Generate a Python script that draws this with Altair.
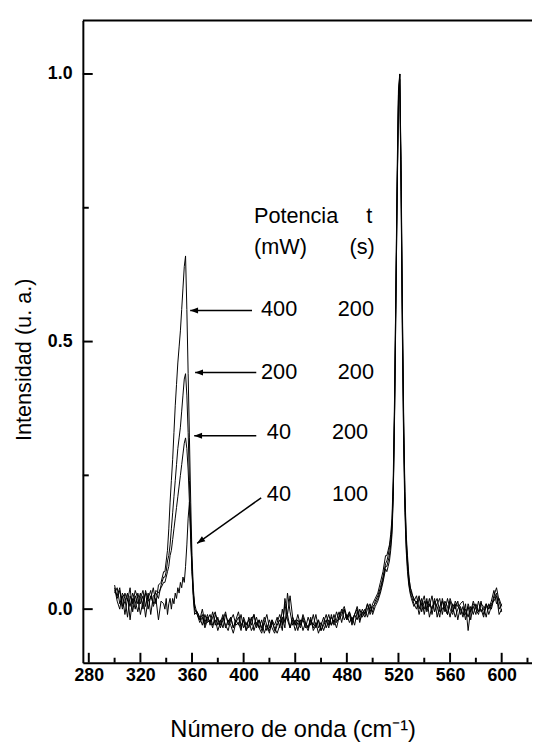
import altair as alt
import pandas as pd

# ---- wavenumber sampling grid (cm^-1) ----
X1 = list(range(300, 340, 2))
X2 = list(range(339, 363))
X3 = list(range(364, 511, 2))
X4 = list(range(511, 530))
X5 = list(range(530, 601, 2))

# ---- series: 400 mW / 200 s ----
A1 = [0.045, 0.02, 0.035, 0.005, 0.03, 0.015, 0.04, -0.005, 0.025, 0.01,
      0.03, 0.0, 0.035, 0.015, 0.02, 0.04, 0.01, 0.045, 0.05, 0.07]
A2 = [0.07, 0.09, 0.11, 0.15, 0.2, 0.24, 0.28, 0.33, 0.38, 0.42, 0.46, 0.49,
      0.52, 0.56, 0.6, 0.64, 0.66, 0.56, 0.44, 0.32, 0.2, 0.1, 0.04, 0.01]
A3 = [-0.01, -0.02, 0.0, -0.025, -0.01, -0.03, -0.015, -0.005, -0.03, -0.02,
      -0.035, -0.01, -0.025, -0.015, -0.035, -0.02, -0.005, -0.03, -0.02, -0.04,
      -0.015, -0.03, -0.01, -0.035, -0.02, -0.04, -0.025, -0.01, -0.035, -0.02,
      -0.04, -0.025, -0.01, -0.03, 0.01, -0.02, -0.035, -0.015, -0.03, -0.01,
      -0.03, -0.02, -0.035, -0.015, -0.03, -0.01, -0.035, -0.02, -0.04, -0.025,
      -0.01, -0.03, -0.015, -0.025, -0.005, -0.02, -0.01, 0.0, -0.02, -0.005,
      -0.025, -0.01, 0.005, -0.015, 0.0, -0.01, 0.01, -0.005, 0.01, 0.02,
      0.03, 0.05, 0.07, 0.1]
A4 = [0.1, 0.11, 0.12, 0.14, 0.17, 0.25, 0.4, 0.6, 0.79, 0.95, 1.0, 0.82,
      0.56, 0.35, 0.21, 0.13, 0.09, 0.06, 0.045]
A5 = [0.03, 0.02, 0.01, 0.025, -0.005, 0.015, 0.0, 0.02, -0.01, 0.015,
      0.005, -0.015, 0.02, 0.0, -0.01, 0.015, -0.005, 0.01, -0.02, 0.005,
      -0.01, 0.0, -0.015, 0.005, -0.01, 0.01, -0.005, 0.0, -0.015, 0.01,
      0.0, 0.015, 0.035, 0.01, 0.02, 0.005]

# ---- series: 200 mW / 200 s ----
B1 = [0.03, 0.04, 0.01, 0.025, -0.01, 0.02, 0.005, 0.03, 0.015, -0.005,
      0.02, 0.035, 0.005, 0.03, -0.01, 0.025, 0.03, 0.02, 0.045, 0.06]
B2 = [0.06, 0.07, 0.09, 0.1, 0.12, 0.15, 0.18, 0.21, 0.24, 0.27, 0.3, 0.32,
      0.34, 0.37, 0.4, 0.43, 0.44, 0.4, 0.33, 0.24, 0.15, 0.08, 0.03, 0.0]
B3 = [-0.005, -0.015, -0.03, -0.01, -0.025, -0.02, -0.035, -0.01, -0.02, -0.03,
      -0.015, -0.03, -0.04, -0.02, -0.01, -0.03, -0.025, -0.04, -0.015, -0.03,
      -0.02, -0.04, -0.03, -0.015, -0.035, -0.045, -0.025, -0.04, -0.02, -0.035,
      -0.045, -0.03, -0.02, -0.04, 0.02, -0.01, -0.035, -0.02, -0.04, -0.025,
      -0.035, -0.015, -0.03, -0.04, -0.02, -0.035, -0.025, -0.045, -0.03, -0.015,
      -0.035, -0.02, -0.03, -0.01, -0.025, -0.015, 0.0, -0.02, -0.01, -0.025,
      -0.015, -0.03, -0.005, -0.02, -0.01, 0.0, -0.015, 0.005, -0.005, 0.015,
      0.025, 0.04, 0.06, 0.085]
B4 = [0.09, 0.1, 0.115, 0.13, 0.16, 0.23, 0.37, 0.57, 0.77, 0.94, 1.0, 0.84,
      0.58, 0.37, 0.22, 0.14, 0.1, 0.065, 0.04]
B5 = [0.035, 0.015, 0.025, 0.0, 0.02, -0.01, 0.015, 0.005, 0.025, -0.005,
      0.01, 0.02, -0.01, 0.015, 0.005, -0.015, 0.01, 0.0, 0.015, -0.01,
      0.005, -0.02, 0.01, -0.005, 0.015, 0.0, -0.01, 0.01, 0.005, -0.015,
      0.01, 0.0, 0.02, 0.03, 0.0, 0.01]

# ---- series: 40 mW / 200 s ----
C1 = [0.04, 0.015, 0.0, 0.03, 0.02, -0.015, 0.025, 0.01, 0.035, 0.02,
      -0.01, 0.015, 0.03, 0.0, 0.025, 0.01, 0.035, 0.03, 0.04, 0.05]
C2 = [0.05, 0.06, 0.07, 0.08, 0.1, 0.11, 0.13, 0.15, 0.17, 0.19, 0.21, 0.23,
      0.25, 0.27, 0.29, 0.31, 0.32, 0.3, 0.26, 0.2, 0.13, 0.07, 0.03, 0.0]
C3 = [-0.01, -0.025, -0.015, -0.035, -0.02, -0.01, -0.03, -0.02, -0.04, -0.025,
      -0.01, -0.035, -0.02, -0.03, -0.045, -0.025, -0.015, -0.035, -0.02, -0.04,
      -0.03, -0.015, -0.04, -0.025, -0.035, -0.02, -0.045, -0.03, -0.04, -0.025,
      -0.035, -0.045, -0.03, -0.015, -0.035, 0.03, -0.005, -0.03, -0.02, -0.04,
      -0.02, -0.04, -0.025, -0.035, -0.015, -0.04, -0.03, -0.02, -0.04, -0.03,
      -0.02, -0.035, -0.01, -0.03, -0.02, -0.005, -0.025, 0.0, -0.02, -0.01,
      -0.03, -0.01, -0.02, 0.0, -0.015, -0.005, 0.01, -0.01, 0.005, 0.01,
      0.02, 0.035, 0.055, 0.08]
C4 = [0.08, 0.09, 0.1, 0.12, 0.15, 0.22, 0.36, 0.56, 0.78, 0.96, 0.99, 0.8,
      0.54, 0.33, 0.2, 0.12, 0.08, 0.05, 0.035]
C5 = [0.025, 0.01, 0.0, 0.02, 0.01, 0.025, -0.005, 0.01, 0.0, 0.02,
      -0.015, 0.005, 0.015, -0.005, 0.02, 0.0, -0.01, 0.015, 0.005, 0.0,
      -0.015, 0.01, -0.04, 0.0, 0.005, -0.01, 0.015, -0.005, 0.0, 0.01,
      -0.01, 0.005, 0.025, 0.04, 0.015, -0.005]

# ---- series: 40 mW / 100 s ----
D1 = [0.035, 0.025, 0.04, 0.0, 0.015, 0.03, -0.02, 0.02, 0.0, 0.03,
      0.01, 0.025, -0.015, 0.02, 0.035, 0.005, 0.02, -0.02, 0.015, 0.01]
D2 = [0.0, 0.02, -0.01, 0.01, 0.02, 0.0, 0.02, 0.01, 0.03, 0.02, 0.04, 0.03,
      0.05, 0.04, 0.06, 0.05, 0.08, 0.12, 0.17, 0.2, 0.14, 0.07, 0.02, -0.01]
D3 = [-0.005, -0.02, -0.01, -0.03, -0.015, -0.025, -0.005, -0.03, -0.015, -0.035,
      -0.02, -0.005, -0.03, -0.015, -0.035, -0.02, -0.03, -0.01, -0.035, -0.025,
      -0.035, -0.02, -0.01, -0.03, -0.02, -0.035, -0.015, -0.03, -0.045, -0.02,
      -0.03, -0.015, -0.035, 0.0, -0.025, -0.01, 0.025, -0.015, -0.03, -0.02,
      -0.03, -0.01, -0.025, -0.035, -0.02, -0.03, -0.01, -0.035, -0.025, -0.04,
      -0.025, -0.01, -0.03, -0.02, -0.035, -0.015, -0.005, 0.005, -0.015, -0.005,
      -0.02, -0.01, 0.0, -0.025, -0.005, -0.015, 0.0, 0.01, -0.01, 0.005,
      0.015, 0.03, 0.05, 0.075]
D4 = [0.07, 0.08, 0.09, 0.11, 0.14, 0.21, 0.38, 0.6, 0.82, 0.97, 1.0, 0.78,
      0.52, 0.31, 0.18, 0.11, 0.07, 0.045, 0.03]
D5 = [0.02, 0.005, 0.015, -0.01, 0.01, 0.0, 0.02, -0.015, 0.005, 0.01,
      0.02, -0.005, 0.0, 0.01, -0.01, 0.02, 0.005, -0.015, 0.0, 0.01,
      0.015, -0.01, 0.005, -0.02, 0.01, 0.005, -0.005, 0.015, -0.01, 0.005,
      0.0, 0.01, 0.015, 0.025, -0.01, 0.0]

# ---- axis ticks ----
X_MAJOR = [280, 320, 360, 400, 440, 480, 520, 560, 600]
X_MINOR = [300, 340, 380, 420, 460, 500, 540, 580, 620]
Y_MAJOR = [0.0, 0.5, 1.0]
Y_MINOR = [0.25, 0.75]

# ---- annotations ----
HEAD_TEXT = ["Potencia", "t", "(mW)", "(s)"]
HEAD_X = [408, 495, 408, 482]
HEAD_Y = [0.735, 0.735, 0.676, 0.676]
POW = ["400", "200", "40", "40"]
TIME = ["200", "200", "200", "100"]
POW_X = [413.5, 413.5, 418, 418]
TIME_X = [473, 473, 468.5, 468.5]
ROW_Y = [0.56, 0.442, 0.331, 0.215]
ARR_X0 = [406.5, 409.8, 409.8, 413.6]
ARR_Y0 = [0.558, 0.442, 0.324, 0.208]
ARR_X1 = [358.6, 362.4, 361.7, 364.0]
ARR_Y1 = [0.558, 0.442, 0.324, 0.123]
ARR_ANG = [270, 270, 270, 235]

W, H = 456, 652
FONT = "Liberation Sans"

xs = alt.Scale(domain=[275.4, 623.5], nice=False, zero=False)
ys = alt.Scale(domain=[-0.1, 1.1], nice=False, zero=False)

X = X1 + X2 + X3 + X4 + X5
rows = []
for name, segs in [("400 mW, 200 s", [A1, A2, A3, A4, A5]),
                   ("200 mW, 200 s", [B1, B2, B3, B4, B5]),
                   ("40 mW, 200 s", [C1, C2, C3, C4, C5]),
                   ("40 mW, 100 s", [D1, D2, D3, D4, D5])]:
    vals = [v for s in segs for v in s]
    for xv, yv in zip(X, vals):
        rows.append({"serie": name, "x": xv, "y": yv})
df = pd.DataFrame(rows)

lines = alt.Chart(df).mark_line(color="black", strokeWidth=1).encode(
    x=alt.X("x:Q", scale=xs, axis=alt.Axis(
        values=X_MAJOR, format="d", ticks=False, grid=False,
        domainColor="black", domainWidth=2,
        labelFont=FONT, labelFontSize=18, labelFontWeight="bold",
        labelColor="black", labelPadding=4,
        title="Número de onda (cm⁻¹)", titleFont=FONT, titleFontSize=24,
        titleFontWeight="normal", titleColor="black",
        titleX=213, titleY=75, titleBaseline="alphabetic", titleAnchor="middle")),
    y=alt.Y("y:Q", scale=ys, axis=alt.Axis(
        values=Y_MAJOR, format=".1f", ticks=False, grid=False,
        domainColor="black", domainWidth=2,
        labelFont=FONT, labelFontSize=18, labelFontWeight="bold",
        labelColor="black", labelPadding=11,
        title="Intensidad (u. a.)", titleFont=FONT, titleFontSize=22,
        titleFontWeight="normal", titleColor="black",
        titleX=-53, titleY=344, titleBaseline="alphabetic")),
    detail="serie:N",
)

xticks_major = alt.Chart(pd.DataFrame({"v": X_MAJOR})).mark_rule(
    color="black", strokeWidth=2).encode(
    x=alt.X("v:Q", scale=xs, axis=None), y=alt.value(H), y2=alt.value(H - 10))
xticks_minor = alt.Chart(pd.DataFrame({"v": X_MINOR})).mark_rule(
    color="black", strokeWidth=2).encode(
    x=alt.X("v:Q", scale=xs, axis=None), y=alt.value(H), y2=alt.value(H - 5))
yticks_major = alt.Chart(pd.DataFrame({"v": Y_MAJOR})).mark_rule(
    color="black", strokeWidth=2).encode(
    y=alt.Y("v:Q", scale=ys, axis=None), x=alt.value(0), x2=alt.value(10))
yticks_minor = alt.Chart(pd.DataFrame({"v": Y_MINOR})).mark_rule(
    color="black", strokeWidth=2).encode(
    y=alt.Y("v:Q", scale=ys, axis=None), x=alt.value(0), x2=alt.value(6))

top_border = alt.Chart(pd.DataFrame({"v": [1.1]})).mark_rule(
    color="black", strokeWidth=2).encode(
    y=alt.Y("v:Q", scale=ys, axis=None), x=alt.value(0), x2=alt.value(W))

head_df = pd.DataFrame({"t": HEAD_TEXT, "x": HEAD_X, "y": HEAD_Y})
rows_df = pd.DataFrame({"t": POW + TIME, "x": POW_X + TIME_X, "y": ROW_Y + ROW_Y})
txt_df = pd.concat([head_df, rows_df], ignore_index=True)
texts = alt.Chart(txt_df).mark_text(
    align="left", baseline="middle", font=FONT, fontSize=22, color="black"
).encode(
    x=alt.X("x:Q", scale=xs, axis=None),
    y=alt.Y("y:Q", scale=ys, axis=None),
    text="t:N",
)

arr_df = pd.DataFrame({"x0": ARR_X0, "y0": ARR_Y0, "x1": ARR_X1, "y1": ARR_Y1,
                       "ang": ARR_ANG})
shafts = alt.Chart(arr_df).mark_rule(color="black", strokeWidth=1.5).encode(
    x=alt.X("x0:Q", scale=xs, axis=None), x2="x1:Q",
    y=alt.Y("y0:Q", scale=ys, axis=None), y2="y1:Q",
)
heads = alt.Chart(arr_df).mark_point(
    shape="M0,0 L0.38,1 L-0.38,1 Z", filled=True, color="black",
    opacity=1, size=256, strokeWidth=0
).encode(
    x=alt.X("x1:Q", scale=xs, axis=None),
    y=alt.Y("y1:Q", scale=ys, axis=None),
    angle=alt.Angle("ang:Q", scale=None),
)

chart = alt.layer(
    lines, xticks_major, xticks_minor, yticks_major, yticks_minor,
    top_border, shafts, heads, texts
).resolve_axis(x="independent", y="independent").properties(
    width=W, height=H,
    autosize=alt.AutoSizeParams(type="none"),
    padding={"left": 76, "top": 7, "right": 0, "bottom": 82},
    background="white",
).configure_view(stroke=None)

chart.save("out.html", embed_options={"renderer": "svg", "actions": False})
